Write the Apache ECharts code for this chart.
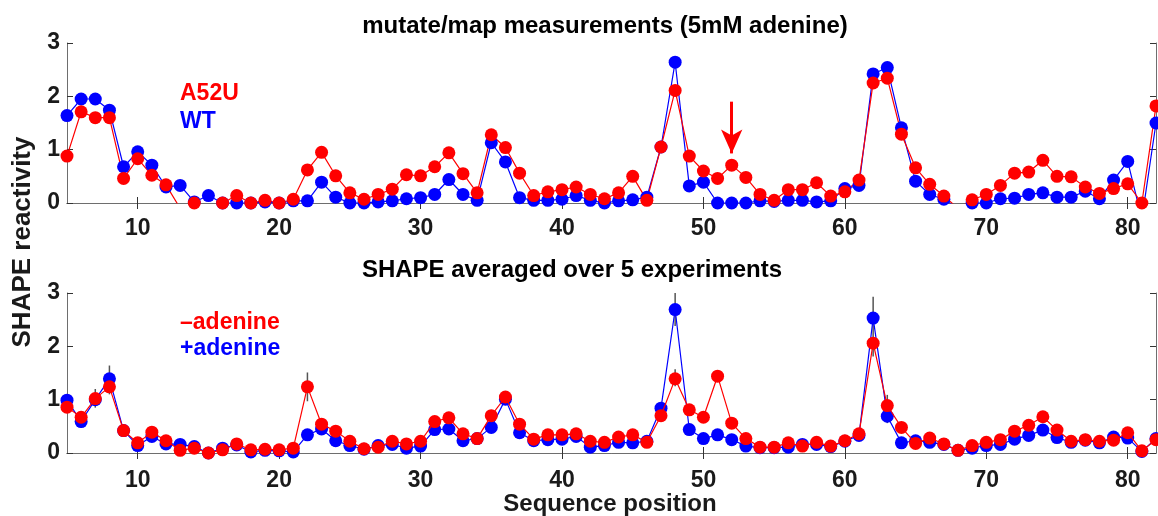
<!DOCTYPE html>
<html><head><meta charset="utf-8">
<script src="https://cdn.jsdelivr.net/npm/echarts@6/dist/echarts.min.js"></script>
<style>html,body{margin:0;padding:0;background:#fff}#c{width:1158px;height:516px}</style>
</head><body><div id="c"></div>
<script>
const positions = [5,6,7,8,9,10,11,12,13,14,15,16,17,18,19,20,21,22,23,24,25,26,27,28,29,30,31,32,33,34,35,36,37,38,39,40,41,42,43,44,45,46,47,48,49,50,51,52,53,54,55,56,57,58,59,60,61,62,63,64,65,66,67,68,69,70,71,72,73,74,75,76,77,78,79,80,81,82];
const xTicks = [10,20,30,40,50,60,70,80];
const yTicks = [0,1,2,3];

// top panel: mutate/map (5mM adenine)
const topA52U = [0.88,1.71,1.60,1.60,0.46,0.83,0.52,0.34,-0.1,0.00,-0.1,0.00,0.14,0.00,0.05,0.00,0.07,0.62,0.95,0.51,0.19,0.07,0.16,0.26,0.53,0.51,0.68,0.94,0.55,0.19,1.28,1.04,0.56,0.14,0.21,0.25,0.30,0.16,0.08,0.19,0.50,0.05,1.05,2.11,0.88,0.60,0.46,0.71,0.48,0.16,0.05,0.25,0.25,0.38,0.13,0.21,0.43,2.25,2.34,1.29,0.66,0.35,0.13,-0.1,0.06,0.16,0.33,0.56,0.58,0.80,0.50,0.49,0.30,0.18,0.27,0.36,0.00,1.82];
const topWT = [1.64,1.95,1.95,1.74,0.68,0.96,0.71,0.30,0.33,0.02,0.14,0.00,0.00,0.00,0.02,0.00,0.04,0.04,0.39,0.11,0.00,0.00,0.02,0.04,0.08,0.10,0.16,0.44,0.16,0.05,1.13,0.77,0.10,0.05,0.05,0.07,0.14,0.05,0.00,0.04,0.06,0.11,1.05,2.64,0.32,0.39,0.00,0.00,0.00,0.04,0.03,0.05,0.05,0.02,0.04,0.27,0.33,2.42,2.54,1.41,0.41,0.16,0.07,-0.1,0.00,0.00,0.08,0.09,0.16,0.19,0.11,0.11,0.22,0.08,0.43,0.78,-0.3,1.50];

// bottom panel: averaged over 5 experiments
const botMinusAde = [0.86,0.67,1.02,1.24,0.42,0.19,0.39,0.23,0.05,0.09,0.00,0.06,0.17,0.06,0.07,0.06,0.09,1.24,0.54,0.41,0.22,0.08,0.11,0.22,0.17,0.22,0.59,0.66,0.36,0.27,0.70,1.05,0.54,0.26,0.34,0.34,0.36,0.22,0.20,0.30,0.34,0.20,0.70,1.39,0.81,0.67,1.44,0.56,0.27,0.11,0.11,0.19,0.13,0.20,0.13,0.23,0.36,2.06,0.89,0.48,0.18,0.28,0.17,0.05,0.14,0.20,0.25,0.41,0.52,0.68,0.43,0.22,0.25,0.22,0.24,0.38,0.04,0.25];
const botPlusAde = [0.99,0.59,1.00,1.39,0.42,0.14,0.31,0.17,0.16,0.12,0.00,0.09,0.15,0.02,0.05,0.04,0.02,0.34,0.45,0.23,0.14,0.07,0.14,0.16,0.09,0.13,0.44,0.45,0.23,0.27,0.48,1.01,0.38,0.23,0.25,0.26,0.31,0.11,0.14,0.20,0.19,0.22,0.84,2.69,0.44,0.27,0.34,0.25,0.13,0.10,0.10,0.11,0.16,0.16,0.12,0.22,0.33,2.53,0.69,0.19,0.23,0.20,0.16,0.05,0.09,0.14,0.16,0.26,0.33,0.43,0.29,0.20,0.24,0.19,0.30,0.28,0.03,0.27];

// error bars (bottom panel)
const errX = [6,7,8,22,48,48,62,63];
const errLow = [0.47,0.85,1.10,0.97,2.38,1.25,1.81,0.56];
const errHigh = [0.75,1.20,1.64,1.51,3.00,1.57,2.93,1.09];

// arrow in top panel
const arrowX = 52, arrowFrom = 1.90, arrowTo = 0.93;

const RED = '#ff0000', BLUE = '#0000ff';
const tickFont = {fontFamily:'Liberation Sans, Arial, sans-serif', fontWeight:'bold', fontSize:23, color:'#1a1a1a'};
const boxLine = {show:true, lineStyle:{color:'#6e6e6e', width:1}};
const BOLD = 'bold 24px "Liberation Sans", Arial, sans-serif';
const LEG = 'bold 23px "Liberation Sans", Arial, sans-serif';

function xAx(gi, pos, labels) {
  return {
    type:'value', gridIndex:gi, position:pos, min:5, max:82,
    axisLine: boxLine,
    axisTick: {show:true, inside:true, length:6, customValues:xTicks, lineStyle:{color:'#333', width:1}},
    axisLabel: labels ? Object.assign({show:true, customValues:xTicks, margin: gi===0?14:16}, tickFont) : {show:false},
    splitLine:{show:false}
  };
}
function yAx(gi, pos, labels) {
  return {
    type:'value', gridIndex:gi, position:pos, min:0, max:3, interval:1,
    axisLine: boxLine,
    axisTick: {show:true, inside:true, length:6, lineStyle:{color:'#333', width:1}},
    axisLabel: labels ? Object.assign({show:true, margin:7}, tickFont) : {show:false},
    splitLine:{show:false}
  };
}
function toPts(vals){ return positions.map((p,i)=>[p, vals[i]]); }
function lineSeries(vals, color, xi, yi, extra){
  return Object.assign({
    type:'line', xAxisIndex:xi, yAxisIndex:yi, data:toPts(vals),
    symbol:'circle', symbolSize:13, clip:true,
    itemStyle:{color:color}, lineStyle:{color:color, width:1.2},
    animation:false
  }, extra||{});
}

const errData = errX.map((x,i)=>[x, errLow[i], errHigh[i]]);

const option = {
  animation:false,
  grid:[
    {left:67, right:2, top:43, height:160},
    {left:67, right:2, top:293, height:160}
  ],
  xAxis:[ xAx(0,'bottom',true), xAx(0,'top',false), xAx(1,'bottom',true), xAx(1,'top',false) ],
  yAxis:[ yAx(0,'left',true), yAx(0,'right',false), yAx(1,'left',true), yAx(1,'right',false) ],
  series:[
    lineSeries(topWT, BLUE, 0, 0),
    lineSeries(topA52U, RED, 0, 0, {
      markLine:{
        silent:true, symbol:['none','arrow'], symbolSize:[16,24],
        lineStyle:{color:RED, width:3, type:'solid'}, label:{show:false},
        data:[[{coord:[arrowX, arrowFrom]},{coord:[arrowX, arrowTo]}]]
      }
    }),
    {
      type:'custom', xAxisIndex:2, yAxisIndex:2, data:errData, z:1, clip:true,
      renderItem:function(params, api){
        const p1 = api.coord([api.value(0), api.value(1)]);
        const p2 = api.coord([api.value(0), api.value(2)]);
        return {type:'line', shape:{x1:p1[0], y1:p1[1], x2:p2[0], y2:p2[1]}, style:{stroke:'#555', lineWidth:1.5}};
      }
    },
    lineSeries(botPlusAde, BLUE, 2, 2, {z:2}),
    lineSeries(botMinusAde, RED, 2, 2, {z:3})
  ],
  graphic:[
    {type:'text', x:605, y:26, style:{text:'mutate/map measurements (5mM adenine)', fill:'#000', font:BOLD, textAlign:'center', textVerticalAlign:'middle'}},
    {type:'text', x:572, y:270, style:{text:'SHAPE averaged over 5 experiments', fill:'#000', font:BOLD, textAlign:'center', textVerticalAlign:'middle'}},
    {type:'text', x:610, y:504, style:{text:'Sequence position', fill:'#1a1a1a', font:BOLD, textAlign:'center', textVerticalAlign:'middle'}},
    {type:'text', x:23, y:242, rotation:Math.PI/2, style:{text:'SHAPE reactivity', fill:'#1a1a1a', font:'bold 26px "Liberation Sans", Arial, sans-serif', textAlign:'center', textVerticalAlign:'middle'}},
    {type:'text', x:180, y:94, style:{text:'A52U', fill:RED, font:LEG, textAlign:'left', textVerticalAlign:'middle'}},
    {type:'text', x:180, y:122, style:{text:'WT', fill:BLUE, font:LEG, textAlign:'left', textVerticalAlign:'middle'}},
    {type:'text', x:180, y:323, style:{text:'\u2013adenine', fill:RED, font:LEG, textAlign:'left', textVerticalAlign:'middle'}},
    {type:'text', x:180, y:349, style:{text:'+adenine', fill:BLUE, font:LEG, textAlign:'left', textVerticalAlign:'middle'}}
  ]
};
const chart = echarts.init(document.getElementById('c'), null, {renderer:'canvas'});
chart.setOption(option);
</script></body></html>
